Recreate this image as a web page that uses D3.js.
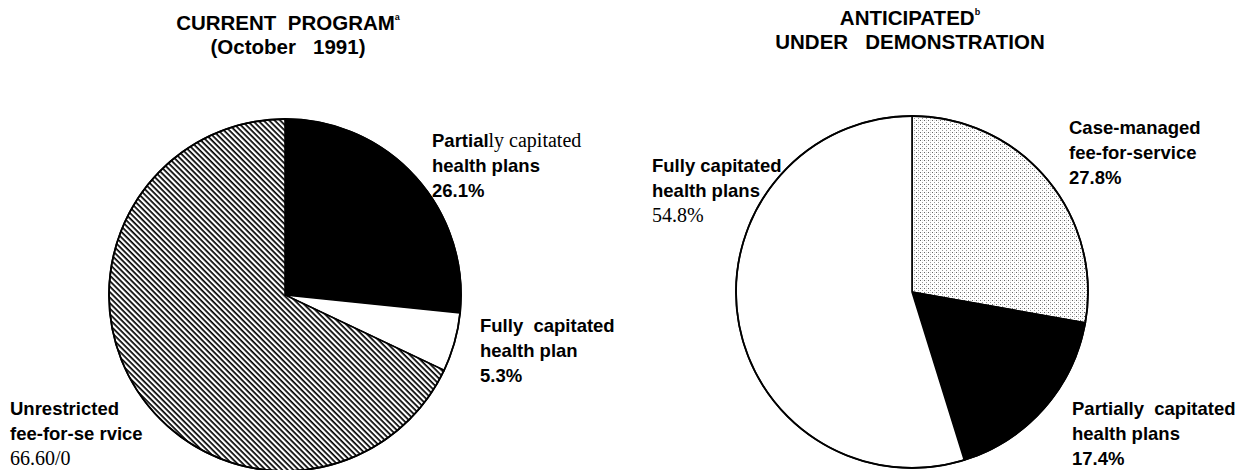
<!DOCTYPE html>
<html lang="en">
<head>
    <meta charset="UTF-8">
    <script src="https://d3js.org/d3.v7.min.js"></script>
</head>
<style>
    body { margin: 0; background: #fff; }
    svg { display: block; }
    .sans { font-family: "Liberation Sans", Arial, sans-serif; font-weight: bold; }
    .serif { font-family: "Liberation Serif", "Times New Roman", serif; font-weight: normal; }
    .slice { stroke: #000; stroke-width: 1.6px; }
</style>
<body>
<div class="chart"></div>
<script>
    // left pie: current program
    const currentCats = ['Partially capitated health plans', 'Fully capitated health plan', 'Unrestricted fee-for-service']
    const currentVals = [26.1, 5.3, 66.6]
    // right pie: anticipated under demonstration
    const anticipCats = ['Case-managed fee-for-service', 'Partially capitated health plans', 'Fully capitated health plans']
    const anticipVals = [27.8, 17.4, 54.8]

    const currentTitle = ['CURRENT PROGRAM', '(October 1991)']
    const anticipTitle = ['ANTICIPATED', 'UNDER DEMONSTRATION']

    const width = 1239,
        height = 470

    const svg = d3.select('.chart')
        .append('svg')
        .attr('width', width)
        .attr('height', height)

    const defs = svg.append('defs')

    const hatch = defs.append('pattern')
        .attr('id', 'hatch')
        .attr('patternUnits', 'userSpaceOnUse')
        .attr('width', 10)
        .attr('height', 3.9)
        .attr('patternTransform', 'rotate(45)')
    hatch.append('rect').attr('width', 10).attr('height', 3.9).attr('fill', '#fff')
    hatch.append('rect').attr('width', 10).attr('height', 1.7).attr('fill', '#000')

    const dots = defs.append('pattern')
        .attr('id', 'dots')
        .attr('patternUnits', 'userSpaceOnUse')
        .attr('width', 4)
        .attr('height', 4)
    dots.append('rect').attr('width', 4).attr('height', 4).attr('fill', '#fff')
    dots.append('rect').attr('x', 0).attr('y', 0).attr('width', 1).attr('height', 1).attr('fill', '#666')
    dots.append('rect').attr('x', 2).attr('y', 2).attr('width', 1).attr('height', 1).attr('fill', '#999')
    dots.append('rect').attr('x', 2).attr('y', 0).attr('width', 1).attr('height', 1).attr('fill', '#ddd')

    const pie = d3.pie().sort(null).value(d => d)
    const radius = 176
    const arc = d3.arc().innerRadius(0).outerRadius(radius)

    function drawPie(cx, cy, vals, fills) {
        const g = svg.append('g').attr('transform', `translate(${cx},${cy})`)
        g.selectAll('.slice')
            .data(pie(vals))
            .enter().append('path')
            .attr('class', 'slice')
            .attr('d', arc)
            .attr('fill', (d, i) => fills[i])
        g.append('circle')
            .attr('r', radius)
            .attr('fill', 'none')
            .attr('stroke', '#000')
            .attr('stroke-width', 1.8)
    }

    drawPie(285, 295, currentVals, ['#000', '#fff', 'url(#hatch)'])
    drawPie(912, 292, anticipVals, ['url(#dots)', '#000', '#fff'])

    // titles
    function title(cx, y0, lines, sup) {
        const t = svg.append('text')
            .attr('class', 'sans')
            .attr('text-anchor', 'middle')
            .attr('font-size', 20.5)
        t.append('tspan').attr('x', cx).attr('y', y0).text(lines[0].replace(' ', '\u00a0\u00a0'))
        t.append('tspan').attr('font-size', 9).attr('dy', -10).text(sup)
        svg.append('text')
            .attr('class', 'sans')
            .attr('text-anchor', 'middle')
            .attr('font-size', 20.5)
            .attr('x', cx)
            .attr('y', y0 + 24)
            .text(lines[1].replace(' ', '\u00a0\u00a0\u00a0'))
    }
    title(288, 30, currentTitle, 'a')
    title(910, 25, anticipTitle, 'b')

    // slice labels: each line is a list of [text, style]
    function label(x, y, lines) {
        const t = svg.append('text')
        lines.forEach((line, i) => {
            const ts = t.append('tspan').attr('x', x).attr('y', y + i * 25)
            line.forEach(part => {
                ts.append('tspan')
                    .attr('class', part[1])
                    .attr('font-size', part[1] === 'serif' ? 20 : 18.5)
                    .text(part[0])
            })
        })
    }

    label(432, 147, [[['Partial', 'sans'], ['ly capitated', 'serif']], [['health plans', 'sans']], [[currentVals[0] + '%', 'sans']]])
    label(480, 332, [[['Fully\u00a0\u00a0capitated', 'sans']], [['health plan', 'sans']], [[currentVals[1] + '%', 'sans']]])
    label(10, 415, [[['Unrestricted', 'sans']], [['fee-for-se rvice', 'sans']], [['66.60/0', 'serif']]])

    label(1069, 134, [[['Case-managed', 'sans']], [['fee-for-service', 'sans']], [[anticipVals[0] + '%', 'sans']]])
    label(652, 172, [[['Fully capitated', 'sans']], [['health plans', 'sans']], [[anticipVals[2] + '%', 'serif']]])
    label(1072, 415, [[['Partially\u00a0\u00a0capitated', 'sans']], [['health plans', 'sans']], [[anticipVals[1] + '%', 'sans']]])
</script>
</body>
</html>
